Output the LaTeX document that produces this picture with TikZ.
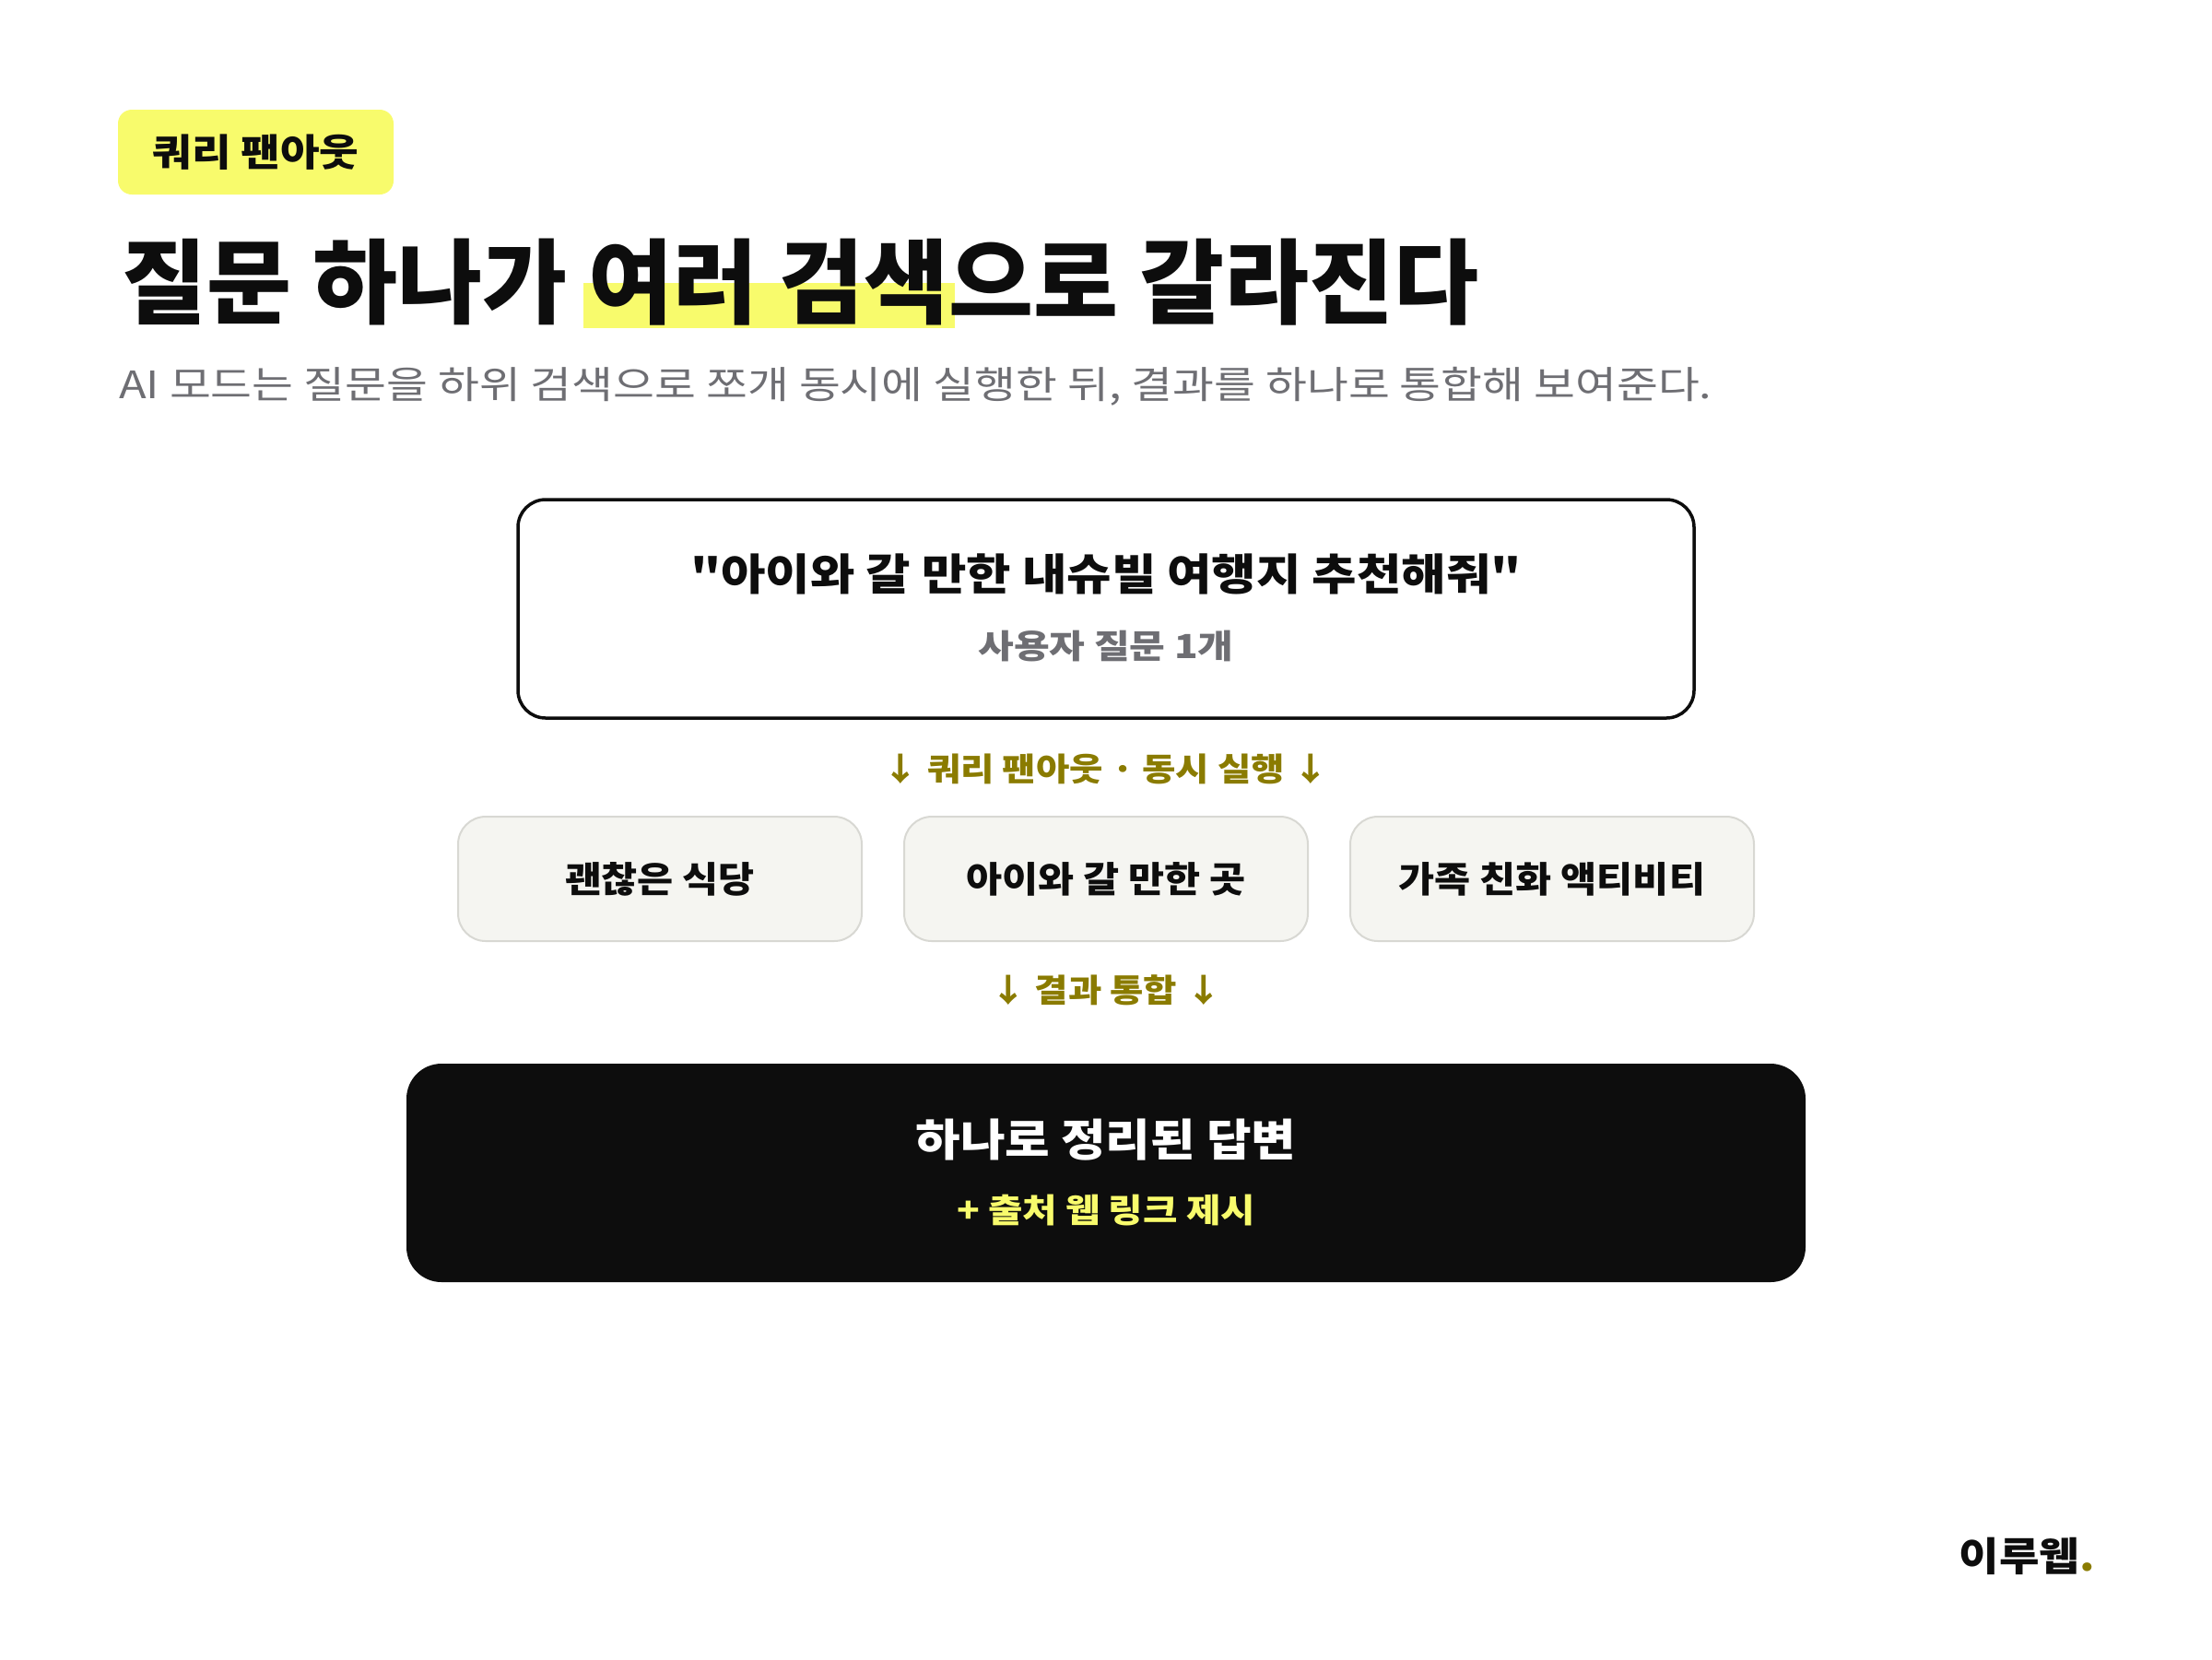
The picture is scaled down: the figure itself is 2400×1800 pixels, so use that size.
\documentclass[tikz,border=0pt]{standalone}
\usepackage{fontspec}
\newfontfamily\kr{Noto Sans CJK KR}
\usetikzlibrary{calc,backgrounds}
\definecolor{hlyellow}{HTML}{F8FB6C}
\definecolor{olive}{HTML}{8A7B00}
\definecolor{subgray}{HTML}{6E6E73}
\definecolor{cardfill}{HTML}{F5F5F1}
\definecolor{cardline}{HTML}{D8D8D3}
\definecolor{ink}{HTML}{0D0D0D}
\definecolor{lightyellow}{HTML}{F8FB6C}
\newcommand{\fs}[2]{\kr\fontsize{#1}{#1}\selectfont\addfontfeatures{FakeStretch=#2}}
\tikzset{
  txt/.style={inner sep=0pt, text=ink},
  tagbox/.style={fill=hlyellow, rounded corners=15pt, inner sep=0pt},
  querybox/.style={draw=ink, line width=3.5pt, fill=white, rounded corners=30pt, minimum width=1276pt, minimum height=237pt, inner sep=0pt},
  subbox/.style={draw=cardline, line width=2pt, fill=cardfill, rounded corners=30pt, minimum width=438pt, minimum height=135pt, inner sep=0pt, font=\fs{39}{1.09}\bfseries, text=ink},
  answerbox/.style={fill=ink, rounded corners=38pt, minimum width=1518pt, minimum height=237pt, inner sep=0pt},
  flowlabel/.style={inner sep=0pt, text=olive, font=\fs{35}{1.13}\bfseries},
}
\begin{document}
\begin{tikzpicture}[x=1pt,y=-1pt]
\useasboundingbox (0,0) rectangle (2400,1800);
% tag
\node[tagbox, minimum width=299pt, minimum height=92pt] (tag) at (277.5,165) {};
\node[txt, font=\fs{41}{1.13}\bfseries] (tagtext) at (tag.center) {쿼리 팬아웃};
% title
\node[txt, anchor=base west, font=\fs{100}{1.0}\bfseries] (t1) at (132,343) {질문 하나가};
\node[txt, anchor=base west, font=\fs{100}{1.0}\bfseries, xshift=23pt] (t2) at (t1.base east) {여러 검색};
\node[txt, anchor=base west, font=\fs{100}{1.0}\bfseries] (t3) at (t2.base east) {으로 갈라진다};
\begin{scope}[on background layer]
  \fill[hlyellow] ($(t2.base west)+(-5,-36)$) rectangle ($(t2.base east)+(6,13)$);
\end{scope}
% subtitle
\node[txt, anchor=west, text=subgray, font=\fs{41}{1.19}] (sub) at (129,419) {AI 모드는 질문을 하위 검색으로 쪼개 동시에 실행한 뒤, 결과를 하나로 통합해 보여준다.};
% query box
\node[querybox] (query) at (1200,660.5) {};
\node[txt, font=\fs{47}{1.12}\bfseries] (qtext) at (1200,623) {"아이와 갈 만한 내슈빌 여행지 추천해줘"};
\node[txt, text=subgray, font=\fs{36}{1.17}\bfseries] (qsub) at (1200,701) {사용자 질문 1개};
% fan-out label
\node[flowlabel] (fan) at (1200,834) {↓ 쿼리 팬아웃 · 동시 실행 ↓};
% sub queries
\node[subbox] (s1) at (716,953.5) {괜찮은 식당};
\node[subbox] (s2) at (1200,953.5) {아이와 갈 만한 곳};
\node[subbox] (s3) at (1684,953.5) {가족 친화 액티비티};
% merge label
\node[flowlabel] (merge) at (1200,1074) {↓ 결과 통합 ↓};
% answer
\node[answerbox] (answer) at (1200,1272.5) {};
\node[txt, text=white, font=\fs{48}{1.1}\bfseries] (atext) at (1200,1237) {하나로 정리된 답변};
\node[txt, text=lightyellow, font=\fs{36}{1.13}\bfseries] (asub) at (1200,1313) {+ 출처 웹 링크 제시};
% logo
\node[txt, anchor=east, font=\fs{43}{1.1}\bfseries] (logo) at (2273,1688) {이루웹\textcolor{olive}{.}};
\end{tikzpicture}
\end{document}
